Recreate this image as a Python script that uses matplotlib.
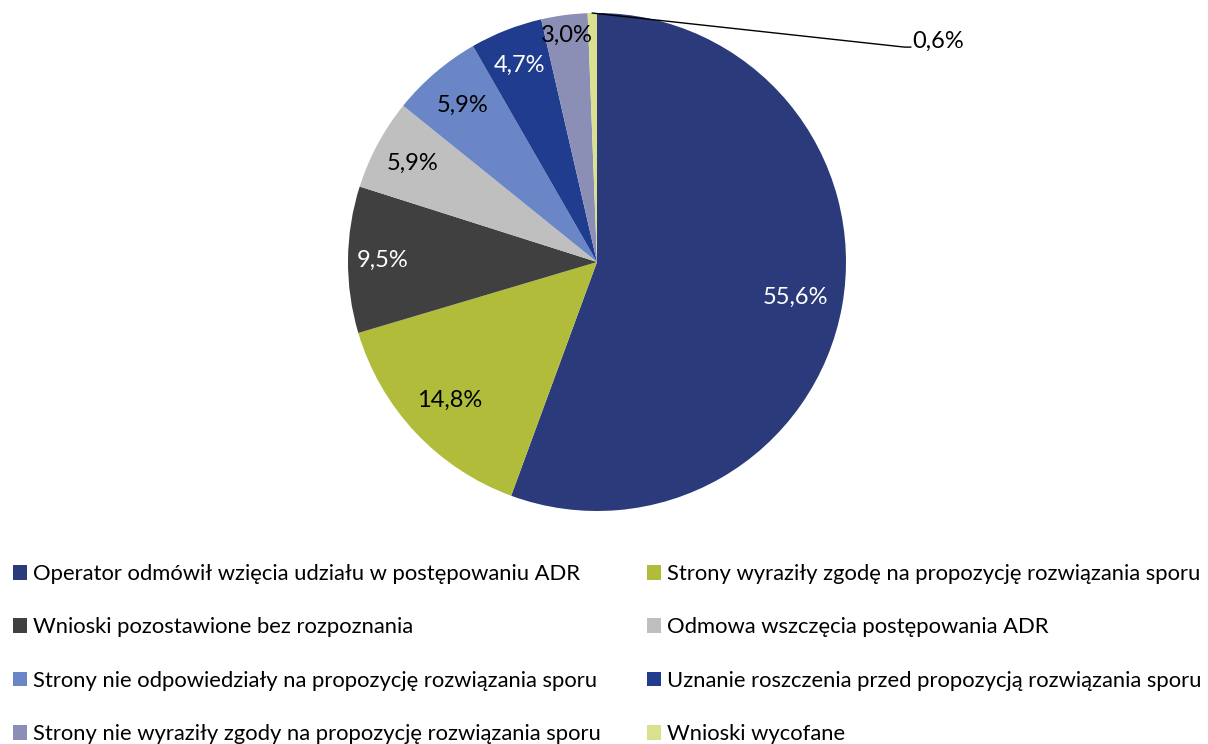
import numpy as np
import matplotlib.pyplot as plt

plt.rcParams['font.family'] = ['Lato', 'DejaVu Sans']

categories = [
    "Operator odmówił wzięcia udziału w postępowaniu ADR",
    "Strony wyraziły zgodę na propozycję rozwiązania sporu",
    "Wnioski pozostawione bez rozpoznania",
    "Odmowa wszczęcia postępowania ADR",
    "Strony nie odpowiedziały na propozycję rozwiązania sporu",
    "Uznanie roszczenia przed propozycją rozwiązania sporu",
    "Strony nie wyraziły zgody na propozycję rozwiązania sporu",
    "Wnioski wycofane",
]
values = [55.6, 14.8, 9.5, 5.9, 5.9, 4.7, 3.0, 0.6]
labels = ["55,6%", "14,8%", "9,5%", "5,9%", "5,9%", "4,7%", "3,0%", "0,6%"]
colors = ["#2B3A7B", "#B0BC3A", "#404040", "#BFBFBF",
          "#6A86C6", "#1F3C8F", "#8C8FB5", "#D9E18E"]
label_colors = ["white", "black", "white", "black", "black", "white", "black", "black"]

W, H = 1208, 744
fig = plt.figure(figsize=(W / 100, H / 100), dpi=100)
cx, cy, r = 597, 262, 249
ax = fig.add_axes([(cx - r) / W, (H - cy - r) / H, 2 * r / W, 2 * r / H])

wedges, texts = ax.pie(values, colors=colors, startangle=90, counterclock=False,
                       radius=1.0, wedgeprops=dict(linewidth=0))
ax.set_xlim(-1, 1)
ax.set_ylim(-1, 1)

# label distance from the centre for each slice (fraction of radius)
dists = [0.81, 0.81, 0.86, 0.84, 0.83, 0.85, 0.92]
for i, w in enumerate(wedges[:-1]):
    ang = np.deg2rad((w.theta1 + w.theta2) / 2)
    ax.text(dists[i] * np.cos(ang), dists[i] * np.sin(ang), labels[i],
            ha="center", va="center", fontsize=17, color=label_colors[i])

# tiny slice gets an outside label with a leader line
w = wedges[-1]
ang = np.deg2rad((w.theta1 + w.theta2) / 2)
x0, y0 = np.cos(ang), np.sin(ang)
ax.plot([x0, 1.235, 1.26], [y0, 0.863, 0.863], color="black", lw=1, clip_on=False)
ax.text(1.265, 0.885, labels[-1], ha="left", va="center", fontsize=17, clip_on=False)

order = [0, 2, 4, 6, 1, 3, 5, 7]
fig.legend([wedges[i] for i in order], [categories[i] for i in order],
           ncol=2, loc="upper left", bbox_to_anchor=(13 / W, 1 - 564 / H),
           frameon=False, fontsize=15.8, handlelength=0.65, handleheight=0.65,
           handletextpad=0.25, columnspacing=2.12, labelspacing=1.52,
           borderpad=0, borderaxespad=0)

fig.savefig("out.png", dpi=100)
